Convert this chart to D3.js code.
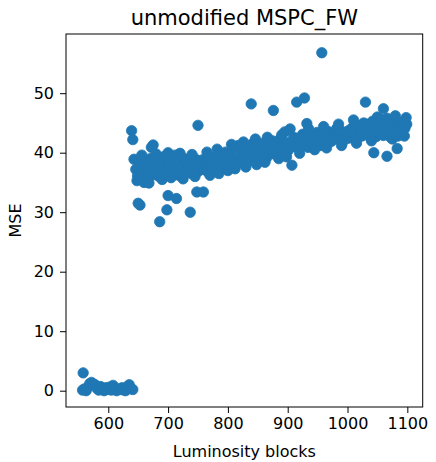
<!doctype html>
<html lang="en">
<head>
	<meta charset="UTF-8">
	<title>unmodified MSPC_FW</title>
	<style type="text/css">
	body{
		margin: 0;
		background: #fff;
	}
	svg text{
		font-family: 'DejaVu Sans', sans-serif;
		fill: #000;
	}
	</style>
	<script type="text/javascript" src="https://cdn.jsdelivr.net/npm/d3@7/dist/d3.min.js"></script>
</head>
<body>
	<script type="text/javascript">
		// blocks before the jump
		var lowBlocks = [557, 560, 563, 566, 569, 572, 575, 578, 581, 584, 587, 590, 593, 596, 599,
			602, 605, 608, 611, 614, 617, 620, 623, 626, 629, 632, 635, 638, 641, 558];
		var lowMse = [0.1, 0.3, 0.0, 0.6, 1.2, 1.4, 1.1, 1.0, 0.4, 0.1, 0.7, 0.3, 0.0, 0.5, 0.2,
			0.6, 0.1, 0.9, 0.4, 0.0, 0.3, 0.2, 0.5, 0.1, 0.0, 0.7, 1.0, 0.4, 0.2, 3.0];

		// main band after the jump
		var bandBlocks = [
			643, 646, 649, 652, 655, 658, 661, 664, 667, 670,
			673, 676, 679, 682, 685, 688, 691, 694, 697, 700,
			703, 706, 709, 712, 715, 718, 721, 724, 727, 730,
			733, 736, 739, 742, 745, 748, 751, 754, 757, 760,
			763, 766, 769, 772, 775, 778, 781, 784, 787, 790,
			793, 796, 799, 802, 805, 808, 811, 814, 817, 820,
			823, 826, 829, 832, 835, 838, 841, 844, 847, 850,
			853, 856, 859, 862, 865, 868, 871, 874, 877, 880,
			883, 886, 889, 892, 895, 898, 901, 904, 907, 910,
			913, 916, 919, 922, 925, 928, 931, 934, 937, 940,
			943, 946, 949, 952, 955, 958, 961, 964, 967, 970,
			973, 976, 979, 982, 985, 988, 991, 994, 997, 1000,
			1003, 1006, 1009, 1012, 1015, 1018, 1021, 1024, 1027, 1030,
			1033, 1036, 1039, 1042, 1045, 1048, 1051, 1054, 1057, 1060,
			1063, 1066, 1069, 1072, 1075, 1078, 1081, 1084, 1087, 1090,
			1093, 1096, 1099];
		var bandMse = [
			38.9, 37.2, 36.1, 38.4, 37.0, 35.6, 38.6, 37.8, 36.5, 39.0,
			37.4, 36.3, 38.8, 37.9, 36.0, 38.2, 37.1, 39.4, 36.8, 37.7,
			38.5, 36.4, 37.9, 39.6, 37.3, 36.2, 38.3, 37.6, 39.0, 36.9,
			37.8, 38.6, 36.5, 37.4, 39.0, 38.1, 36.9, 37.7, 38.8, 37.2,
			38.4, 36.8, 39.2, 37.9, 38.7, 37.3, 39.5, 38.0, 37.1, 39.3,
			38.2, 40.1, 37.6, 39.4, 38.5, 40.6, 37.9, 39.0, 41.2, 38.3,
			39.8, 38.4, 40.9, 39.2, 40.3, 38.7, 41.5, 39.9, 40.6, 38.9,
			40.8, 39.5, 41.6, 40.1, 39.2, 41.0, 40.5, 42.0, 39.8, 41.3,
			40.6, 42.2, 41.1, 39.9, 43.5, 41.7, 40.4, 44.0, 41.2, 42.6,
			41.0, 42.4, 40.8, 41.9, 43.1, 41.3, 42.7, 40.9, 42.0, 41.6,
			42.8, 41.5, 43.4, 42.1, 41.2, 43.0, 42.5, 41.8, 43.6, 42.2,
			41.9, 43.2, 42.6, 44.1, 42.3, 43.7, 41.6, 42.9, 43.5, 42.4,
			43.8, 42.5, 44.3, 43.1, 42.2, 44.6, 43.4, 42.8, 45.0, 43.6,
			44.8, 43.0, 42.4, 45.3, 43.9, 42.7, 44.5, 43.3, 45.6, 42.9,
			44.2, 45.8, 43.5, 42.6, 44.9, 43.8, 45.4, 42.8, 44.6, 43.9,
			45.2, 44.1, 44.8];

		// extra points on the upper and lower edges of the band
		var edgeBlocks = [648, 660, 668, 690, 705, 725, 745, 770, 785,
			656, 680, 700, 720, 740, 765, 782,
			800, 812, 830, 848, 862, 885, 898,
			806, 826, 846, 866, 890,
			920, 945, 965, 990, 1015, 1040, 1075, 1095,
			935, 960, 985, 1010, 1050, 1080, 1098];
		var edgeMse = [35.3, 35.0, 34.9, 35.5, 35.8, 35.6, 36.0, 36.2, 36.5,
			39.6, 39.8, 40.0, 39.9, 39.7, 40.1, 40.6,
			37.0, 37.3, 37.6, 38.0, 38.4, 39.0, 39.3,
			41.4, 41.8, 42.3, 42.6, 43.0,
			39.9, 40.5, 40.8, 41.2, 41.6, 42.0, 42.3, 42.8,
			44.0, 44.4, 44.8, 45.5, 46.0, 46.2, 45.9];

		// points away from the band
		var outlierBlocks = [639, 641, 750, 675, 672, 653, 650, 698, 686, 737, 700, 714, 748, 759,
			839, 876, 915, 928, 907, 957, 1030, 1060, 1044, 1066, 1083, 932];
		var outlierMse = [43.7, 42.2, 44.6, 41.3, 40.9, 31.2, 31.5, 30.4, 28.4, 30.0, 32.8, 32.3, 33.4, 33.4,
			48.2, 47.1, 48.5, 49.2, 37.9, 56.8, 48.5, 47.4, 40.0, 39.4, 40.7, 44.9];

		var xTicks = [600, 700, 800, 900, 1000, 1100];
		var yTicks = [0, 10, 20, 30, 40, 50];

		var points = [];
		lowBlocks.forEach(function(b, i){ points.push([b, lowMse[i]]); });
		bandBlocks.forEach(function(b, i){ points.push([b, bandMse[i]]); });
		edgeBlocks.forEach(function(b, i){ points.push([b, edgeMse[i]]); });
		outlierBlocks.forEach(function(b, i){ points.push([b, outlierMse[i]]); });

		var w = 436;
		var h = 462;
		var axLeft = 66, axRight = 422.7, axTop = 34, axBottom = 407;

		var x = d3.scaleLinear().domain([529.3, 1125.7]).range([axLeft, axRight]);
		var y = d3.scaleLinear().domain([-2.74, 59.95]).range([axBottom, axTop]);

		var svg = d3.select('body')
					.append('svg')
					.attr('width', w)
					.attr('height', h);

		svg.append('g')
		   .selectAll('circle')
		   .data(points)
		   .enter()
		   .append('circle')
		   .attr('cx', function(d){ return x(d[0]); })
		   .attr('cy', function(d){ return y(d[1]); })
		   .attr('r', 5.2)
		   .attr('fill', '#1f77b4')
		   .attr('stroke', '#1f77b4')
		   .attr('stroke-width', 0.8);

		var xAxis = svg.append('g')
			.attr('transform', 'translate(0,' + axBottom + ')')
			.call(d3.axisBottom(x).tickValues(xTicks).tickFormat(d3.format('d'))
				.tickSize(6).tickPadding(5).tickSizeOuter(0));
		var yAxis = svg.append('g')
			.attr('transform', 'translate(' + axLeft + ',0)')
			.call(d3.axisLeft(y).tickValues(yTicks).tickFormat(d3.format('d'))
				.tickSize(6).tickPadding(6).tickSizeOuter(0));

		[xAxis, yAxis].forEach(function(a){
			a.select('.domain').remove();
			a.selectAll('line').attr('stroke', '#000').attr('stroke-width', 1);
			a.selectAll('text')
			 .attr('font-size', '16px')
			 .attr('font-family', "'DejaVu Sans', sans-serif")
			 .attr('fill', '#000');
		});

		// frame
		svg.append('rect')
		   .attr('x', axLeft)
		   .attr('y', axTop)
		   .attr('width', axRight - axLeft)
		   .attr('height', axBottom - axTop)
		   .attr('fill', 'none')
		   .attr('stroke', '#000')
		   .attr('stroke-width', 1);

		svg.append('text')
		   .attr('x', (axLeft + axRight) / 2)
		   .attr('y', 25)
		   .attr('text-anchor', 'middle')
		   .attr('font-size', '21px')
		   .text('unmodified MSPC_FW');

		svg.append('text')
		   .attr('x', (axLeft + axRight) / 2)
		   .attr('y', 457)
		   .attr('text-anchor', 'middle')
		   .attr('font-size', '16px')
		   .text('Luminosity blocks');

		svg.append('text')
		   .attr('transform', 'translate(21,' + (axTop + axBottom) / 2 + ') rotate(-90)')
		   .attr('text-anchor', 'middle')
		   .attr('font-size', '16px')
		   .text('MSE');
	</script>
</body>
</html>
